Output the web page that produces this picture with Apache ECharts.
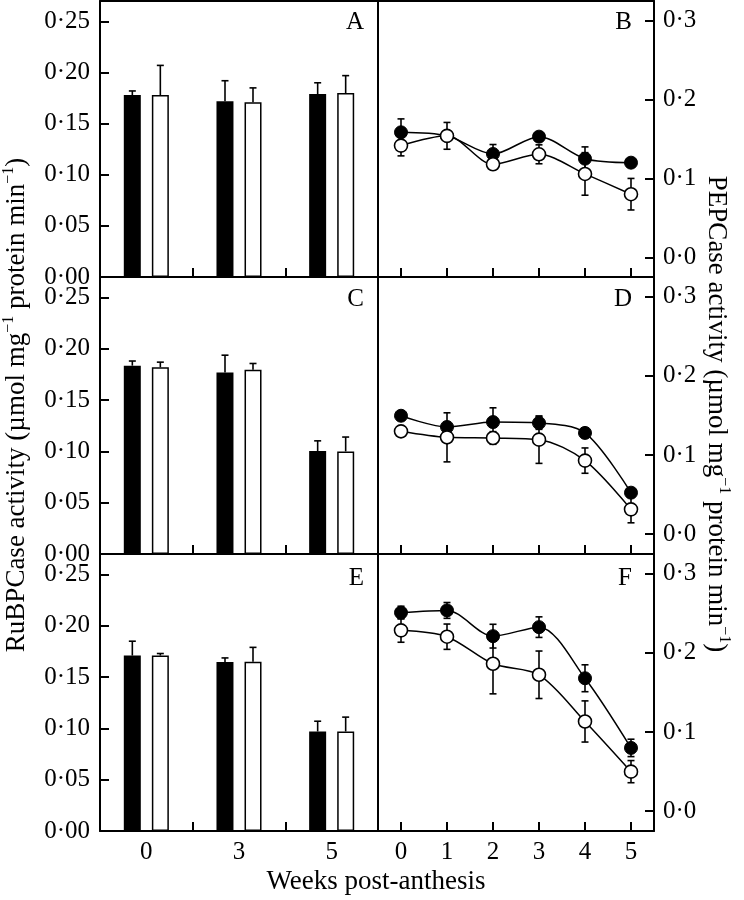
<!DOCTYPE html>
<html><head><meta charset="utf-8">
<script src="https://cdn.jsdelivr.net/npm/echarts@6/dist/echarts.min.js"></script>
<style>html,body{margin:0;padding:0;background:#fff}#c{width:744px;height:900px}</style>
</head><body><div id="c"></div>
<script>
// ---- data ----
const barWeeks = ['0', '3', '5'];
const lineWeeks = ['0', '1', '2', '3', '4', '5'];
const rubTicks = [0, 0.05, 0.10, 0.15, 0.20, 0.25];
const pepTicks = [0, 0.1, 0.2, 0.3];
const panelLetters = ['A', 'B', 'C', 'D', 'E', 'F'];

// RuBPCase (bars)
const rubA_filled = [0.178, 0.172, 0.179];
const rubA_filledErr = [0.004, 0.020, 0.011];
const rubA_open = [0.178, 0.171, 0.180];
const rubA_openErr = [0.029, 0.014, 0.017];

const rubC_filled = [0.1836, 0.1768, 0.1003];
const rubC_filledErr = [0.0045, 0.017, 0.010];
const rubC_open = [0.182, 0.1797, 0.100];
const rubC_openErr = [0.005, 0.006, 0.014];

const rubE_filled = [0.171, 0.1647, 0.097];
const rubE_filledErr = [0.014, 0.004, 0.010];
const rubE_open = [0.171, 0.165, 0.097];
const rubE_openErr = [0.002, 0.014, 0.014];

// PEPCase (lines)
const pepB_filled = [0.1585, 0.154, 0.131, 0.153, 0.125, 0.120];
const pepB_filledErr = [0.017, 0.005, 0.012, 0.006, 0.015, 0.005];
const pepB_open = [0.1416, 0.154, 0.118, 0.1306, 0.1057, 0.080];
const pepB_openErr = [0.013, 0.017, 0.006, 0.012, 0.027, 0.020];

const pepD_filled = [0.1497, 0.1355, 0.1417, 0.1405, 0.128, 0.0525];
const pepD_filledErr = [0.006, 0.006, 0.018, 0.008, 0.006, 0.006];
const pepD_open = [0.130, 0.1224, 0.1216, 0.1195, 0.093, 0.0314];
const pepD_openErr = [0.005, 0.031, 0.008, 0.030, 0.016, 0.017];

const pepF_filled = [0.251, 0.2537, 0.2212, 0.2326, 0.168, 0.080];
const pepF_filledErr = [0.008, 0.010, 0.015, 0.013, 0.017, 0.011];
const pepF_open = [0.2285, 0.2205, 0.1863, 0.1724, 0.1134, 0.050];
const pepF_openErr = [0.015, 0.016, 0.038, 0.030, 0.026, 0.014];

// ---- styling ----
const FONT = 'Liberation Serif';
const TICK_FS = 25;
const BAR_W = 17;
const BAR_OFFSET = 14;
const CAP = 3.5;
const AXZ = 10;

const fmt = (v, d) => v.toFixed(d).replace('.', '\u00B7');

const barPanels = [
  {g: 0, f: rubA_filled, fe: rubA_filledErr, o: rubA_open, oe: rubA_openErr},
  {g: 2, f: rubC_filled, fe: rubC_filledErr, o: rubC_open, oe: rubC_openErr},
  {g: 4, f: rubE_filled, fe: rubE_filledErr, o: rubE_open, oe: rubE_openErr}
];
const linePanels = [
  {g: 1, f: pepB_filled, fe: pepB_filledErr, o: pepB_open, oe: pepB_openErr},
  {g: 3, f: pepD_filled, fe: pepD_filledErr, o: pepD_open, oe: pepD_openErr},
  {g: 5, f: pepF_filled, fe: pepF_filledErr, o: pepF_open, oe: pepF_openErr}
];

const rowTop = [1, 277, 554];
const rowH = [276, 277, 277];
const grids = [], xAxes = [], yAxes = [], series = [];
const lab = (show) => ({show, color: '#000', fontFamily: FONT, fontSize: TICK_FS});
const axLine = {show: true, onZero: false, lineStyle: {color: '#000', width: 2}};
const tickStyle = {color: '#000', width: 2};
const TICK_LEN = 9;

for (let r = 0; r < 3; r++) {
  const bottom = r === 2;
  // left (bar) grid
  grids.push({left: 100, width: 278, top: rowTop[r], height: rowH[r], show: false, containLabel: false});
  xAxes.push({gridIndex: 2 * r, type: 'category', data: barWeeks, boundaryGap: true, position: 'bottom', z: AXZ,
    axisLine: axLine,
    axisTick: {show: true, inside: true, length: TICK_LEN, interval: 0, alignWithLabel: false, lineStyle: tickStyle},
    axisLabel: Object.assign(lab(bottom), {margin: 9, interval: 0}),
    splitLine: {show: false}});
  yAxes.push({gridIndex: 2 * r, type: 'value', min: 0, max: 0.27, position: 'left', z: AXZ,
    axisLine: axLine,
    axisTick: {show: true, inside: true, length: TICK_LEN, customValues: rubTicks, lineStyle: tickStyle},
    axisLabel: Object.assign(lab(true), {customValues: rubTicks, formatter: v => fmt(v, 2), margin: 10}),
    splitLine: {show: false}});
  // right (line) grid
  grids.push({left: 378, width: 276, top: rowTop[r], height: rowH[r], show: false, containLabel: false});
  xAxes.push({gridIndex: 2 * r + 1, type: 'category', data: lineWeeks, boundaryGap: true, position: 'bottom', z: AXZ,
    axisLine: axLine,
    axisTick: {show: true, inside: true, length: TICK_LEN, interval: 0, alignWithLabel: true, lineStyle: tickStyle},
    axisLabel: Object.assign(lab(bottom), {margin: 9, interval: 0}),
    splitLine: {show: false}});
  yAxes.push({gridIndex: 2 * r + 1, type: 'value', min: -0.025, max: 0.325, position: 'right', z: AXZ,
    axisLine: axLine,
    axisTick: {show: true, inside: true, length: TICK_LEN, customValues: pepTicks, lineStyle: tickStyle},
    axisLabel: Object.assign(lab(true), {customValues: pepTicks, formatter: v => fmt(v, 1), margin: 9}),
    splitLine: {show: false}});
}
// frame-only axes (no ticks / labels): divider between columns and the top edge
const frameAxis = (gridIndex, position) => ({gridIndex, type: 'value', min: 0, max: 1, position, z: AXZ,
  axisLine: axLine, axisTick: {show: false}, axisLabel: {show: false}, splitLine: {show: false}});
for (let r = 0; r < 3; r++) yAxes.push(frameAxis(2 * r, 'right'));
xAxes.push(frameAxis(0, 'top'));
xAxes.push(frameAxis(1, 'top'));

function barErr(params, api) {
  const i = api.value(0), v = api.value(1), e = api.value(2), side = api.value(3);
  const base = api.coord([i, v]);
  const top = api.coord([i, v + e]);
  const x = base[0] + side * BAR_OFFSET;
  return {type: 'group', children: [
    {type: 'line', shape: {x1: x, y1: base[1], x2: x, y2: top[1]}, style: {stroke: '#000', lineWidth: 1.6}},
    {type: 'line', shape: {x1: x - CAP, y1: top[1], x2: x + CAP, y2: top[1]}, style: {stroke: '#000', lineWidth: 1.6}}
  ]};
}
function lineErr(params, api) {
  const x = api.value(0), v = api.value(1), e = api.value(2);
  const t = api.coord([x, v + e]), b = api.coord([x, v - e]);
  return {type: 'group', children: [
    {type: 'line', shape: {x1: t[0], y1: t[1], x2: b[0], y2: b[1]}, style: {stroke: '#000', lineWidth: 1.6}},
    {type: 'line', shape: {x1: t[0] - CAP, y1: t[1], x2: t[0] + CAP, y2: t[1]}, style: {stroke: '#000', lineWidth: 1.6}},
    {type: 'line', shape: {x1: b[0] - CAP, y1: b[1], x2: b[0] + CAP, y2: b[1]}, style: {stroke: '#000', lineWidth: 1.6}}
  ]};
}

barPanels.forEach(p => {
  series.push({type: 'bar', xAxisIndex: p.g, yAxisIndex: p.g, data: p.f, barWidth: BAR_W, barGap: '65%',
    itemStyle: {color: '#000'}, z: 2});
  series.push({type: 'bar', xAxisIndex: p.g, yAxisIndex: p.g, data: p.o, barWidth: BAR_W, barGap: '65%',
    itemStyle: {color: '#fff', borderColor: '#000', borderWidth: 1.5}, z: 2});
  series.push({type: 'custom', xAxisIndex: p.g, yAxisIndex: p.g, renderItem: barErr, z: 5,
    data: p.f.map((v, i) => [i, v, p.fe[i], -1])});
  series.push({type: 'custom', xAxisIndex: p.g, yAxisIndex: p.g, renderItem: barErr, z: 5,
    data: p.o.map((v, i) => [i, v, p.oe[i], 1])});
});

linePanels.forEach(p => {
  series.push({type: 'custom', xAxisIndex: p.g, yAxisIndex: p.g, renderItem: lineErr, z: 1,
    data: p.f.map((v, i) => [i, v, p.fe[i]])});
  series.push({type: 'custom', xAxisIndex: p.g, yAxisIndex: p.g, renderItem: lineErr, z: 1,
    data: p.o.map((v, i) => [i, v, p.oe[i]])});
  series.push({type: 'line', xAxisIndex: p.g, yAxisIndex: p.g, data: p.f,
    smooth: 0.3, symbol: 'circle', symbolSize: 13, lineStyle: {color: '#000', width: 1.5},
    itemStyle: {color: '#000', borderColor: '#000', borderWidth: 1}, z: 3});
  series.push({type: 'line', xAxisIndex: p.g, yAxisIndex: p.g, data: p.o,
    smooth: 0.3, symbol: 'circle', symbolSize: 13, lineStyle: {color: '#000', width: 1.5},
    itemStyle: {color: '#fff', borderColor: '#000', borderWidth: 1.6}, z: 4});
});

// panel letters and titles
const graphics = [];
panelLetters.forEach((L, k) => {
  const r = Math.floor(k / 2), right = k % 2 === 1;
  graphics.push({type: 'text', x: right ? 632 : 364, y: 22 + 277 * r + (r === 2 ? 2 : 0),
    style: {text: L, fontFamily: FONT, fontSize: 25, fill: '#000', align: 'right', verticalAlign: 'middle'}});
});
const richT = {
  n: {fontFamily: FONT, fontSize: 27, fill: '#000', lineHeight: 32},
  s: {fontFamily: FONT, fontSize: 16, fill: '#000', verticalAlign: 'top', lineHeight: 32}
};
graphics.push({type: 'text', x: 17, y: 405, rotation: Math.PI / 2,
  style: {text: '{n|RuBPCase activity (\u00B5mol mg}{s|\u22121}{n| protein min}{s|\u22121}{n|)}', rich: richT, align: 'center', verticalAlign: 'middle'}});
graphics.push({type: 'text', x: 716, y: 414, rotation: -Math.PI / 2,
  style: {text: '{n|PEPCase activity (\u00B5mol mg}{s|\u22121}{n| protein min}{s|\u22121}{n|)}', rich: richT, align: 'center', verticalAlign: 'middle'}});
graphics.push({type: 'text', x: 376, y: 882,
  style: {text: 'Weeks post-anthesis', fontFamily: FONT, fontSize: 27, fill: '#000', align: 'center', verticalAlign: 'middle'}});

const chart = echarts.init(document.getElementById('c'), null, {renderer: 'canvas'});
chart.setOption({
  animation: false,
  backgroundColor: '#fff',
  grid: grids, xAxis: xAxes, yAxis: yAxes, series: series,
  graphic: graphics
});
</script></body></html>
